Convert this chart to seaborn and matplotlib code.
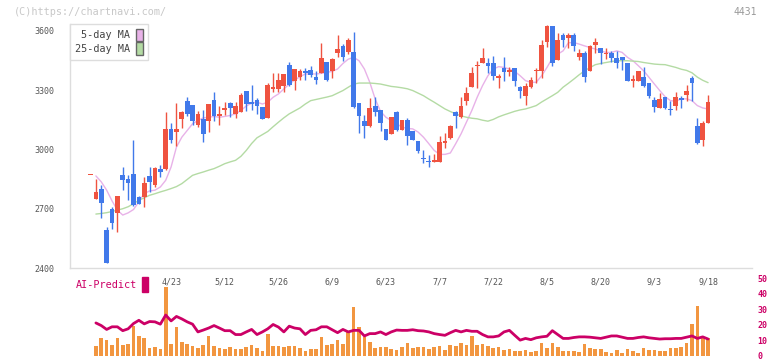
import numpy as np
import matplotlib
matplotlib.use("Agg")
import matplotlib.pyplot as plt
from matplotlib.patches import Patch, Rectangle
import seaborn as sns

# %% data (daily candles, 2025-04-02 .. 2025-09-18)
opens = [2873, 2748, 2799, 2592, 2698, 2679, 2869, 2849, 2878, 2758,
         2758, 2866, 2819, 2899, 2899, 3101, 3088, 3153, 3247, 3227,
         3126, 3155, 3143, 3252, 3167, 3200, 3237, 3180, 3188, 3298,
         3242, 3252, 3217, 3158, 3306, 3304, 3321, 3429, 3348, 3365,
         3397, 3403, 3368, 3385, 3444, 3398, 3489, 3524, 3492, 3494,
         3237, 3146, 3121, 3222, 3202, 3101, 3078, 3192, 3096, 3151,
         3091, 3041, 2957, 2940, 2936, 2936, 3032, 3059, 3187, 3163,
         3244, 3314, 3420, 3435, 3435, 3435, 3360, 3414, 3390, 3410,
         3314, 3269, 3314, 3395, 3395, 3546, 3625, 3454, 3580, 3566,
         3580, 3466, 3486, 3395, 3528, 3511, 3482, 3489, 3464, 3469,
         3435, 3348, 3348, 3368, 3338, 3252, 3210, 3264, 3205, 3219,
         3261, 3278, 3361, 3119, 3049, 3133]
highs = [2873, 2849, 2822, 2605, 2710, 2765, 2911, 2869, 3046, 2765,
         2861, 2911, 2911, 2920, 3192, 3135, 3234, 3197, 3264, 3227,
         3193, 3200, 3232, 3293, 3222, 3242, 3242, 3242, 3288, 3298,
         3328, 3261, 3217, 3335, 3387, 3387, 3383, 3444, 3408, 3408,
         3410, 3424, 3398, 3539, 3444, 3462, 3580, 3533, 3566, 3595,
         3237, 3175, 3262, 3267, 3202, 3101, 3165, 3197, 3151, 3160,
         3091, 3041, 2995, 2970, 2975, 3066, 3084, 3126, 3197, 3267,
         3318, 3419, 3449, 3511, 3461, 3471, 3382, 3469, 3415, 3410,
         3323, 3335, 3365, 3410, 3555, 3630, 3625, 3587, 3587, 3587,
         3588, 3508, 3499, 3528, 3566, 3513, 3513, 3499, 3499, 3469,
         3435, 3378, 3398, 3419, 3338, 3264, 3284, 3264, 3247, 3289,
         3272, 3328, 3373, 3160, 3146, 3278]
lows = [2873, 2748, 2654, 2424, 2599, 2580, 2794, 2743, 2715, 2722,
        2710, 2785, 2810, 2861, 2895, 3032, 3015, 3110, 3167, 3125,
        3113, 3036, 3088, 3146, 3125, 3172, 3163, 3160, 3188, 3197,
        3200, 3177, 3153, 3158, 3293, 3293, 3293, 3321, 3303, 3353,
        3353, 3365, 3331, 3385, 3345, 3360, 3469, 3449, 3482, 3210,
        3083, 3057, 3116, 3168, 3093, 3049, 3078, 3091, 3096, 3022,
        3046, 2983, 2933, 2911, 2936, 2936, 3007, 3051, 3108, 3158,
        3224, 3314, 3309, 3435, 3385, 3351, 3309, 3348, 3373, 3321,
        3259, 3227, 3309, 3336, 3360, 3519, 3424, 3454, 3516, 3511,
        3499, 3454, 3343, 3395, 3486, 3432, 3457, 3445, 3410, 3403,
        3348, 3314, 3348, 3314, 3261, 3188, 3210, 3205, 3175, 3200,
        3209, 3247, 3247, 3029, 3017, 3133]
closes = [2873, 2784, 2730, 2427, 2629, 2765, 2846, 2831, 2718, 2726,
          2829, 2836, 2906, 2886, 3101, 3046, 3101, 3187, 3180, 3143,
          3180, 3076, 3232, 3167, 3177, 3209, 3209, 3219, 3276, 3230,
          3230, 3219, 3153, 3328, 3318, 3353, 3383, 3328, 3408, 3397,
          3387, 3376, 3353, 3464, 3353, 3457, 3509, 3469, 3555, 3214,
          3168, 3118, 3210, 3188, 3133, 3049, 3165, 3096, 3151, 3067,
          3046, 2990, 2952, 2935, 2945, 3036, 3041, 3121, 3168, 3222,
          3284, 3385, 3427, 3464, 3420, 3373, 3373, 3390, 3403, 3345,
          3294, 3319, 3353, 3403, 3529, 3625, 3440, 3555, 3555, 3580,
          3521, 3486, 3365, 3521, 3545, 3486, 3489, 3461, 3440, 3454,
          3348, 3355, 3398, 3319, 3272, 3217, 3256, 3210, 3200, 3267,
          3252, 3298, 3335, 3032, 3133, 3242]

ma5 = [np.nan, 2866, 2836, 2794, 2740, 2693, 2668, 2679, 2696, 2735,
       2777, 2790, 2794, 2810, 2844, 2911, 3012, 3062, 3096, 3130,
       3146, 3160, 3163, 3167, 3163, 3167, 3172, 3180, 3197, 3220,
       3234, 3239, 3230, 3239, 3264, 3281, 3306, 3331, 3351, 3368,
       3382, 3382, 3382, 3385, 3390, 3395, 3407, 3435, 3457, 3466,
       3449, 3407, 3340, 3256, 3193, 3163, 3146, 3130, 3113, 3106,
       3104, 3088, 3062, 3029, 2995, 2975, 2975, 2982, 3029, 3079,
       3138, 3197, 3264, 3323, 3373, 3407, 3419, 3415, 3407, 3395,
       3373, 3348, 3340, 3340, 3373, 3415, 3462, 3482, 3499, 3540,
       3541, 3533, 3524, 3516, 3508, 3499, 3491, 3491, 3499, 3491,
       3466, 3449, 3424, 3398, 3365, 3331, 3298, 3267, 3247, 3244,
       3256, 3256, 3247, 3222, 3210, 3205]
ma25 = [np.nan, 2673, 2676, 2680, 2686, 2693, 2700, 2710, 2725, 2743,
        2755, 2768, 2776, 2785, 2793, 2802, 2812, 2827, 2848, 2869,
        2878, 2886, 2895, 2903, 2915, 2928, 2937, 2945, 2965, 2995,
        3030, 3059, 3075, 3091, 3115, 3138, 3160, 3180, 3195, 3210,
        3230, 3247, 3253, 3259, 3265, 3272, 3285, 3298, 3315, 3331,
        3336, 3336, 3336, 3334, 3331, 3325, 3319, 3316, 3312, 3307,
        3298, 3285, 3272, 3255, 3239, 3222, 3205, 3192, 3180, 3170,
        3163, 3158, 3155, 3148, 3143, 3152, 3165, 3175, 3184, 3193,
        3200, 3205, 3213, 3222, 3240, 3256, 3272, 3289, 3315, 3335,
        3356, 3378, 3398, 3414, 3429, 3435, 3440, 3445, 3449, 3449,
        3449, 3447, 3445, 3440, 3436, 3432, 3430, 3429, 3422, 3415,
        3406, 3400, 3388, 3366, 3350, 3338]

# volume, in units of the lower panel scale
volume = [np.nan, 6.3, 11.3, 10.1, 6.9, 11.3, 6.9, 7.6, 18.9, 12.6,
          11.3, 5.0, 5.7, 4.4, 44.5, 7.6, 18.3, 8.8, 7.6, 6.3,
          5.0, 6.9, 12.6, 6.1, 5.0, 4.4, 5.7, 4.4, 4.4, 5.7,
          6.9, 5.0, 3.1, 13.9, 6.3, 6.3, 5.7, 6.3, 6.3, 5.0,
          3.1, 4.4, 4.4, 12.0, 6.9, 7.6, 10.1, 7.6, 15.1, 31.5,
          18.3, 12.0, 8.8, 5.0, 5.7, 5.7, 4.4, 3.8, 5.7, 8.2,
          5.0, 5.7, 5.7, 4.4, 5.7, 6.3, 3.8, 6.9, 6.3, 8.2,
          6.9, 12.6, 6.9, 7.6, 6.3, 5.0, 5.7, 3.8, 4.4, 3.1,
          3.1, 3.8, 2.5, 3.1, 8.2, 5.0, 8.2, 5.7, 3.1, 3.1,
          3.1, 2.5, 7.6, 5.0, 4.4, 4.4, 2.5, 1.9, 3.8, 1.9,
          4.4, 3.1, 1.9, 5.0, 3.8, 3.8, 3.1, 3.1, 5.0, 5.0,
          5.7, 8.2, 20.8, 32.1, 11.3, 11.3]
ai_predict = [np.nan, 21.2, 19.5, 17.0, 18.7, 18.7, 16.2, 17.4, 20.8, 22.9,
              20.6, 22.1, 21.9, 20.4, 26.3, 22.5, 25.4, 23.8, 21.9, 20.4,
              15.4, 16.6, 17.9, 19.5, 17.9, 16.2, 16.2, 13.7, 13.7, 15.4,
              17.0, 13.7, 15.4, 17.4, 20.2, 18.5, 15.4, 19.1, 17.9, 17.4,
              13.7, 16.4, 16.8, 18.7, 18.7, 16.8, 14.9, 17.0, 15.4, 16.4,
              16.4, 12.8, 14.3, 14.3, 15.4, 13.7, 15.4, 16.6, 16.4, 16.4,
              16.8, 16.2, 16.0, 15.4, 14.3, 13.7, 13.2, 14.9, 16.4, 15.4,
              16.4, 15.8, 15.8, 13.7, 12.2, 12.2, 12.8, 15.4, 16.4, 13.2,
              10.1, 11.2, 10.4, 11.6, 12.2, 12.6, 16.2, 13.7, 11.2, 11.2,
              11.8, 12.2, 12.2, 12.0, 11.6, 11.2, 12.0, 12.8, 12.8, 12.0,
              11.2, 11.2, 11.8, 12.2, 11.6, 11.2, 10.8, 11.0, 11.0, 11.2,
              11.2, 12.0, 12.8, 11.2, 12.2, 10.8]

label_pos = [15, 25, 35, 45, 55, 65, 75, 85, 95, 105, 115]
label_text = ["4/23", "5/12", "5/26", "6/9", "6/23", "7/7", "7/22",
              "8/5", "8/20", "9/3", "9/18"]
price_ticks = [2400, 2700, 3000, 3300, 3600]
panel_ticks = [0, 10, 20, 30, 40, 50]

# %% style
sns.set_style("white")
plt.rcParams["font.family"] = ["DejaVu Sans Mono"]

UP, DOWN = "#ef5340", "#4179ea"
MA5_C, MA25_C = "#e8b2e8", "#b4dba4"
AI_C, VOL_C = "#cc0066", "#f29640"
AXIS_C, TEXT_C = "#dddddd", "#555555"

idx = np.arange(len(closes))
o, h, l, c = map(np.asarray, (opens, highs, lows, closes))
up = c >= o
colors = np.where(up, UP, DOWN)
xlim = (-3.82, 123.18)

fig = plt.figure(figsize=(7.72, 3.61), dpi=100)
ax2 = fig.add_axes([0.0907, 0.0145, 0.8834, 0.2145])
ax = fig.add_axes([0.0907, 0.2576, 0.8834, 0.676])
ax2.set_facecolor("none")

# %% candles
ax.vlines(idx, l, h, colors=colors, linewidth=1.0, zorder=3)
body = np.maximum(np.abs(c - o), 5)
ax.bar(idx, body, bottom=np.minimum(o, c), width=0.88, color=colors,
       linewidth=0, zorder=4)
sns.lineplot(x=idx, y=ma5, ax=ax, color=MA5_C, linewidth=1.0, zorder=2)
sns.lineplot(x=idx, y=ma25, ax=ax, color=MA25_C, linewidth=1.0, zorder=2)

ax.set_xlim(*xlim)
ax.set_ylim(2400, 3635)
ax.set_yticks(price_ticks)
ax.set_yticklabels([str(t) for t in price_ticks])
ax.set_xticks(label_pos)
ax.set_xticklabels(label_text)
ax.set_xticks(np.linspace(xlim[0], xlim[1], 12), minor=True)
ax.tick_params(axis="x", which="major", length=0, pad=7, labelsize=6,
               labelcolor=TEXT_C)
ax.tick_params(axis="x", which="minor", direction="in", length=5,
               width=1, color=AXIS_C)
ax.tick_params(axis="y", length=5, width=1, color=AXIS_C, pad=6,
               labelsize=6, labelcolor=TEXT_C)
for side in ["top", "right"]:
    ax.spines[side].set_visible(False)
for side in ["left", "bottom"]:
    ax.spines[side].set_color(AXIS_C)
    ax.spines[side].set_linewidth(1)
ax.set_xlabel("")
ax.set_ylabel("")

handles = [Patch(facecolor=MA5_C, edgecolor="#666666"),
           Patch(facecolor=MA25_C, edgecolor="#666666")]
leg = ax.legend(handles, ["5-day MA", "25-day MA"], loc="upper left",
                bbox_to_anchor=(0, 1), borderaxespad=0, markerfirst=False,
                handlelength=0.75, handleheight=1.55, handletextpad=0.6,
                labelspacing=0.1, borderpad=0.45, fancybox=False,
                framealpha=1, edgecolor=AXIS_C, fontsize=7.3,
                labelcolor="#444444")
leg.get_frame().set_linewidth(1)

# %% lower panel: volume + AI-Predict
ax2.bar(idx, volume, width=0.68, color=VOL_C, linewidth=0)
sns.lineplot(x=idx, y=ai_predict, ax=ax2, color=AI_C, linewidth=2.0)
ax2.set_xlim(*xlim)
ax2.set_ylim(0, 50)
ax2.set_xticks([])
ax2.set_yticks(panel_ticks)
ax2.yaxis.tick_right()
ax2.tick_params(axis="y", length=0, pad=4, labelsize=6,
                labelcolor=AI_C)
for lab in ax2.get_yticklabels():
    lab.set_fontweight("bold")
for side in ax2.spines:
    ax2.spines[side].set_visible(False)
ax2.set_xlabel("")
ax2.set_ylabel("")
ax2.text(0.009, 0.92, "AI-Predict", transform=ax2.transAxes, color=AI_C,
         fontsize=7.3, va="center", ha="left")
ax2.add_patch(Rectangle((0.1056, 0.82), 0.0088, 0.2, transform=ax2.transAxes,
                        color=AI_C, clip_on=False))

# %% captions
fig.text(14 / 772, 1 - 12 / 361, "(C)https://chartnavi.com/", color="#c8c8c8",
         fontsize=7.3, va="center", ha="left")
fig.text(757 / 772, 1 - 12 / 361, "4431", color="#999999", fontsize=7,
         va="center", ha="right")

fig.savefig("out.png", dpi=100)
